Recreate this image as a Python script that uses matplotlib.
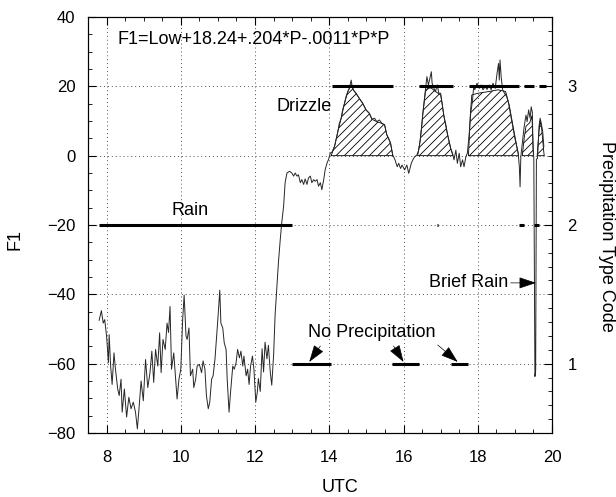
import numpy as np
import matplotlib.pyplot as plt
from matplotlib.ticker import MultipleLocator

plt.rcParams['font.family'] = ['Liberation Sans', 'DejaVu Sans']
plt.rcParams['hatch.linewidth'] = 0.6

# F1 time series (UTC hours, F1)
utc = [7.80, 7.86, 7.91, 7.95, 8.00, 8.05, 8.07, 8.11, 8.15, 8.20, 8.24, 8.30, 8.34, 8.39,
       8.42, 8.48, 8.54, 8.60, 8.66, 8.72, 8.78, 8.83, 8.87, 8.93, 8.99, 9.05, 9.11, 9.17,
       9.22, 9.27, 9.32, 9.38, 9.43, 9.47, 9.52, 9.58, 9.63, 9.67, 9.71, 9.75, 9.81, 9.86,
       9.90, 9.95, 10.00, 10.05, 10.09, 10.14, 10.17, 10.22, 10.26, 10.32, 10.35, 10.40,
       10.44, 10.50, 10.56, 10.60, 10.65, 10.69, 10.74, 10.78, 10.83, 10.87, 10.92, 10.96,
       11.01, 11.05, 11.08, 11.13, 11.17, 11.22, 11.25, 11.30, 11.34, 11.40, 11.44, 11.49,
       11.53, 11.58, 11.62, 11.67, 11.70, 11.76, 11.80, 11.84, 11.88, 11.93, 11.97, 12.02,
       12.06, 12.09, 12.14, 12.19, 12.23, 12.27, 12.32, 12.36, 12.41, 12.45, 12.50, 12.54,
       12.59, 12.63, 12.68, 12.72, 12.77, 12.81, 12.86, 12.93, 12.99, 13.04, 13.08, 13.13,
       13.17, 13.22, 13.26, 13.31, 13.35, 13.40, 13.44, 13.49, 13.53, 13.58, 13.62, 13.67,
       13.71, 13.76, 13.80, 13.85, 13.89, 13.94, 13.98, 14.03, 14.07, 14.14, 14.18, 14.23,
       14.27, 14.32, 14.36, 14.41, 14.45, 14.50, 14.54, 14.59, 14.61, 14.65, 14.72, 14.81,
       14.90, 14.99, 15.08, 15.15, 15.22, 15.28, 15.35, 15.42, 15.49, 15.55, 15.60, 15.65,
       15.71, 15.77, 15.83, 15.87, 15.92, 15.96, 16.03, 16.09, 16.14, 16.21, 16.25, 16.30,
       16.36, 16.41, 16.45, 16.49, 16.52, 16.56, 16.59, 16.63, 16.67, 16.70, 16.75, 16.77,
       16.82, 16.86, 16.91, 16.95, 17.00, 17.04, 17.09, 17.14, 17.18, 17.23, 17.27, 17.32,
       17.36, 17.41, 17.45, 17.50, 17.54, 17.59, 17.63, 17.68, 17.72, 17.77, 17.81, 17.86,
       17.89, 17.92, 17.98, 18.04, 18.09, 18.14, 18.20, 18.25, 18.31, 18.36, 18.41, 18.47,
       18.52, 18.56, 18.58, 18.60, 18.63, 18.67, 18.72, 18.78, 18.82, 18.86, 18.91, 18.96,
       19.00, 19.05, 19.09, 19.12, 19.14, 19.16, 19.21, 19.25, 19.30, 19.33, 19.37, 19.41,
       19.44, 19.47, 19.49, 19.51, 19.54, 19.56, 19.58, 19.61, 19.65, 19.68, 19.71, 19.75,
       19.78]
f1 = [-47.5, -44.7, -48.3, -47.3, -52.0, -59.7, -51.6, -60.7, -66.0, -56.9, -61.6, -67.3,
      -69.2, -64.5, -74.0, -67.3, -75.4, -69.7, -73.0, -71.1, -74.0, -78.8, -73.5, -65.0,
      -70.7, -58.8, -66.9, -62.6, -56.4, -65.4, -55.9, -60.7, -51.1, -62.6, -53.0, -55.9,
      -48.3, -51.0, -43.5, -61.6, -56.9, -64.5, -70.2, -64.5, -61.6, -47.3, -40.2, -52.0,
      -53.0, -49.7, -63.5, -61.6, -66.9, -64.5, -60.7, -60.2, -62.6, -59.2, -61.6, -69.2,
      -73.0, -71.1, -64.5, -63.5, -58.8, -53.0, -45.4, -38.8, -48.3, -49.7, -54.0, -55.9,
      -64.5, -74.0, -68.3, -60.7, -61.6, -59.7, -55.9, -58.3, -56.4, -60.7, -57.8, -63.5,
      -61.6, -66.0, -60.7, -57.8, -61.6, -71.1, -68.3, -64.3, -68.0, -55.7, -62.4, -53.8,
      -58.6, -54.7, -62.4, -66.2, -57.6, -46.1, -37.5, -30.8, -24.1, -19.3, -14.5, -7.8,
      -5.0, -4.5, -5.0, -5.9, -5.0, -5.9, -5.5, -7.8, -6.9, -8.3, -6.7, -8.3, -6.4, -5.9,
      -7.8, -6.9, -7.4, -6.9, -8.8, -7.8, -9.8, -6.9, -4.0, -2.1, -1.1, 0.8, 1.0, 2.6,
      4.5, 6.9, 9.3, 10.8, 13.2, 15.1, 17.0, 18.5, 19.4, 21.8, 20.4, 18.9, 18.0, 16.5,
      15.1, 13.2, 12.2, 10.5, 10.8, 9.8, 10.3, 9.3, 8.9, 6.0, 5.0, 3.6, 0.2, -1.2, -3.2,
      -2.2, -3.7, -2.7, -4.1, -2.7, -5.1, -2.2, -1.2, -0.3, 0.2, 1.6, 4.5, 8.4, 12.2,
      16.1, 19.0, 22.8, 20.4, 21.8, 24.2, 20.9, 19.4, 18.5, 20.4, 18.0, 18.0, 15.1, 11.3,
      8.9, 6.4, 4.0, 2.1, 0.7, -1.2, 1.6, -2.2, 0.7, -3.2, -1.2, -3.2, -0.3, 0.7, 6.4,
      12.2, 16.1, 19.9, 19.0, 20.9, 19.4, 20.4, 19.0, 19.9, 19.1, 20.4, 19.0, 20.9, 19.4,
      23.8, 26.6, 21.8, 27.6, 22.8, 19.0, 18.0, 17.0, 15.6, 13.2, 10.3, 7.4, 5.0, 2.6,
      0.7, -3.2, -9.0, -0.3, 4.5, 8.4, 11.7, 9.8, 13.2, 10.8, 14.1, 12.5, 2.0, -0.8,
      -63.7, -62.0, -1.0, -0.8, 8.4, 10.8, 9.4, 6.9, 2.6]

# hatched drizzle envelope, nan separates the shaded patches
hatch_utc = [14.05, 14.14, 14.23, 14.32, 14.41, 14.50, 14.59, 14.65, 14.72, 14.81, 14.90,
             14.99, 15.08, 15.15, 15.28, 15.42, 15.49, 15.55, 15.65, 15.71, 15.72,
             16.38, 16.45, 16.52, 16.59, 16.65, 16.75, 16.86, 17.00, 17.04, 17.09, 17.18,
             17.27, 17.33, 17.34,
             17.75, 17.80, 17.84, 18.00, 18.30, 18.55, 18.75, 18.85, 18.95, 19.05, 19.10,
             19.11,
             19.20, 19.25, 19.30, 19.40, 19.46, 19.50, 19.51,
             19.60, 19.65, 19.68, 19.72, 19.77, 19.79]
hatch_f1 = [0, 2.6, 6.9, 10.8, 15.1, 18.5, 20.5, 18.9, 18.0, 16.5, 15.1,
            13.2, 12.2, 10.5, 9.8, 9.3, 8.9, 6.0, 3.6, 0, np.nan,
            0, 4.5, 12.0, 18.5, 19.5, 19.5, 18.5, 17.5, 15.0, 11.3, 6.4,
            2.1, 0, np.nan,
            0, 12.0, 17.5, 18.0, 18.5, 19.0, 18.5, 14.5, 8.5, 2.8, 0,
            np.nan,
            0, 5.0, 8.5, 9.5, 11.5, 0, np.nan,
            0, 7.0, 10.0, 8.0, 2.0, 0]

# precipitation type code spans (start, end) in UTC
rain_spans = [(7.8, 13.0), (16.89, 16.93), (19.10, 19.24), (19.51, 19.65)]
drizzle_spans = [(14.07, 15.72), (16.42, 17.32), (17.77, 19.10), (19.24, 19.51), (19.65, 19.84)]
none_spans = [(13.0, 14.05), (15.70, 16.43), (17.27, 17.73)]

fig = plt.figure(figsize=(6.16, 4.97), dpi=100)
ax = fig.add_axes([88 / 616, 1 - 433 / 497, 464 / 616, 416 / 497])

ax.fill_between(hatch_utc, 0, hatch_f1, facecolor='none', edgecolor='black',
                hatch='////', linewidth=0.6, zorder=2)
ax.plot(utc, f1, color='0.15', linewidth=0.7, zorder=3)

ax.set_xlim(7.5, 20)
ax.set_ylim(-80, 40)
ax.xaxis.set_major_locator(MultipleLocator(2))
ax.xaxis.set_minor_locator(MultipleLocator(0.5))
ax.yaxis.set_major_locator(MultipleLocator(20))
ax.yaxis.set_minor_locator(MultipleLocator(5))
ax.grid(True, which='major', linestyle=(0, (1, 3)), color='0.3', linewidth=0.7)
ax.set_axisbelow(True)
ax.tick_params(which='both', direction='in', top=True, right=False, labelsize=12)
ax.tick_params(which='major', length=6)
ax.tick_params(which='minor', length=3)
ax.tick_params(axis='x', pad=12)
ax.tick_params(axis='y', pad=9)

ax2 = ax.twinx()
ax2.set_ylim(0.5, 3.5)
ax2.yaxis.set_major_locator(MultipleLocator(1))
ax2.yaxis.set_minor_locator(MultipleLocator(0.1))
ax2.tick_params(which='both', direction='in', labelsize=12, pad=11)
ax2.tick_params(which='major', length=6)
ax2.tick_params(which='minor', length=3)

for code, spans in [(2, rain_spans), (3, drizzle_spans), (1, none_spans)]:
    for start, end in spans:
        ax2.hlines(code, start, end, color='black', linewidth=2.2)

ax.text(8.3, 33.4, 'F1=Low+18.24+.204*P-.0011*P*P', fontsize=13, va='center', ha='left')
ax.text(10.24, -15.7, 'Rain', fontsize=13, ha='center', va='center')
ax.text(13.31, 14.3, 'Drizzle', fontsize=13, ha='center', va='center')
ax.text(15.14, -50.9, 'No Precipitation', fontsize=13, ha='center', va='center')

arrow = dict(arrowstyle='-|>,head_length=0.9,head_width=0.3', color='black',
             linewidth=0.5, shrinkA=0, shrinkB=0, mutation_scale=12)
for x0, y0, x1, y1 in [(13.76, -54.9, 13.46, -59.5), (15.73, -54.9, 16.0, -59.5),
                       (16.92, -54.6, 17.46, -59.5)]:
    ax.annotate('', xy=(x1, y1), xytext=(x0, y0), arrowprops=arrow)
ax.annotate('Brief Rain', xy=(19.57, -36.7), xytext=(18.81, -36.7), fontsize=13,
            ha='right', va='center', arrowprops=arrow)

fig.text(15 / 616, 1 - 240 / 497, 'F1', fontsize=13, rotation=90, ha='center', va='center')
fig.text(340 / 616, 1 - 487 / 497, 'UTC', fontsize=13, ha='center', va='center')
fig.text(606 / 616, 1 - 236 / 497, 'Precipitation Type Code', fontsize=13, rotation=270,
         ha='center', va='center')

fig.savefig('out.png', dpi=100)
